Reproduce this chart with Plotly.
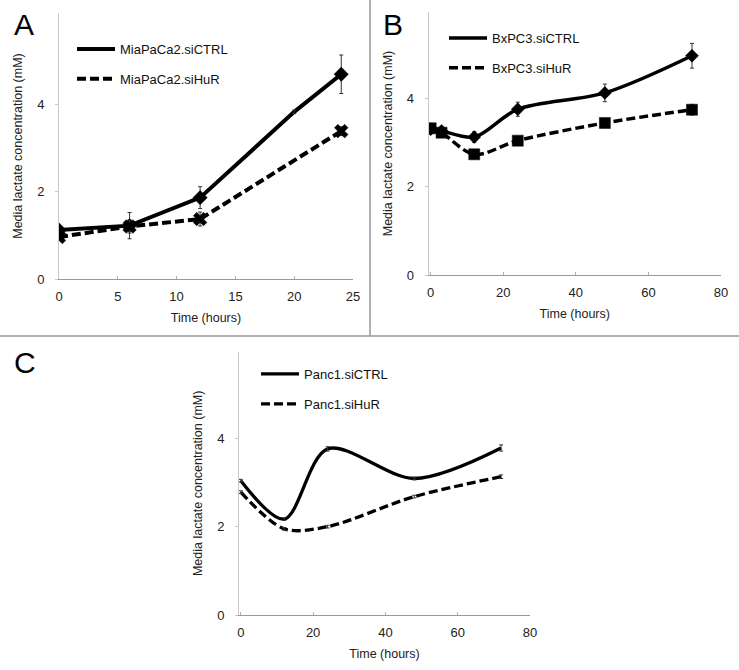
import plotly.graph_objects as go

W, H = 739, 670
FONT = "Liberation Sans, Arial, sans-serif"

# ---------------- data ----------------
# Panel A (MiaPaCa2)
a_time_ctrl = [0, 6, 12, 20, 24]
a_ctrl = [1.12, 1.22, 1.86, 3.82, 4.68]
a_ctrl_err = [0.05, 0.30, 0.25, 0.04, 0.44]
a_time_hur = [0, 6, 12, 24]
a_hur = [0.96, 1.20, 1.37, 3.38]
a_hur_err = [0.05, 0.15, 0.16, 0.10]

# Panel B (BxPC3)
b_time = [0, 3, 12, 24, 48, 72]
b_ctrl = [3.30, 3.26, 3.12, 3.75, 4.12, 4.96]
b_ctrl_err = [0.10, 0.08, 0.12, 0.16, 0.20, 0.28]
b_hur = [3.32, 3.22, 2.73, 3.04, 3.44, 3.74]
b_hur_err = [0.10, 0.08, 0.10, 0.08, 0.10, 0.12]

# Panel C (Panc1)
c_time = [0, 12, 24, 48, 72]
c_ctrl = [3.04, 2.17, 3.76, 3.09, 3.78]
c_ctrl_err = [0.03, 0.03, 0.05, 0.03, 0.07]
c_hur = [2.78, 1.95, 2.00, 2.68, 3.13]
c_hur_err = [0.03, 0.03, 0.03, 0.03, 0.04]

y_ticks = [0, 2, 4]
a_xticks = [0, 5, 10, 15, 20, 25]
bc_xticks = [0, 20, 40, 60, 80]

names = {
    "A": ("MiaPaCa2.siCTRL", "MiaPaCa2.siHuR"),
    "B": ("BxPC3.siCTRL", "BxPC3.siHuR"),
    "C": ("Panc1.siCTRL", "Panc1.siHuR"),
}


def px_x(p):
    return p / W


def px_y(p):
    return 1 - p / H


fig = go.Figure()
DASH = "9px,4px"


def add_series(x, y, err, name, solid, xa, ya, legend, shape, width,
               symbol=None, msize=0, hide_at=None):
    # line trace (shown in legend, no marker)
    fig.add_trace(go.Scatter(
        x=x, y=y, mode="lines", name=name, legend=legend, legendgroup=name,
        line=dict(color="black", width=width, dash=None if solid else DASH,
                  shape=shape, smoothing=0.9),
        xaxis=xa, yaxis=ya, showlegend=True, hoverinfo="skip"))
    sizes = [0 if (hide_at is not None and t == hide_at) else msize for t in x]
    fig.add_trace(go.Scatter(
        x=x, y=y, mode="markers", name=name, legend=legend, legendgroup=name,
        marker=dict(symbol=symbol or "circle", size=sizes, color="#000",
                    opacity=1, line=dict(width=0.5, color="#000")),
        error_y=dict(type="data", array=err, visible=True, color="#333",
                     thickness=1, width=2),
        xaxis=xa, yaxis=ya, showlegend=False))


# Panel A
add_series(a_time_ctrl, a_ctrl, a_ctrl_err, names["A"][0], True, "x", "y",
           "legend", "linear", 4, "diamond", 11, hide_at=20)
add_series(a_time_hur, a_hur, a_hur_err, names["A"][1], False, "x", "y",
           "legend", "linear", 4, "x", 12)
# Panel B
add_series(b_time, b_ctrl, b_ctrl_err, names["B"][0], True, "x2", "y2",
           "legend2", "spline", 3.5, "diamond", 10)
add_series(b_time, b_hur, b_hur_err, names["B"][1], False, "x2", "y2",
           "legend2", "spline", 3.5, "square", 11)
# Panel C
add_series(c_time, c_ctrl, c_ctrl_err, names["C"][0], True, "x3", "y3",
           "legend3", "spline", 3.3, None, 0)
add_series(c_time, c_hur, c_hur_err, names["C"][1], False, "x3", "y3",
           "legend3", "spline", 3.3, None, 0)

tickfont = dict(family=FONT, size=13, color="#222")
titlefont = dict(family=FONT, size=12.5, color="#222")


def xaxis(domain_px, rng, ticks, anchor):
    return dict(domain=[px_x(domain_px[0]), px_x(domain_px[1])], range=rng,
                tickvals=ticks, showline=True, linecolor="#9a9a9a",
                linewidth=1, ticks="inside", ticklen=3, tickcolor="#b0b0b0",
                showgrid=False, zeroline=False, tickfont=tickfont,
                ticklabelstandoff=5, anchor=anchor, automargin=True,
                title=dict(text="Time (hours)", font=titlefont, standoff=10))


def yaxis(domain_px, rng, anchor):
    return dict(domain=[px_y(domain_px[1]), px_y(domain_px[0])], range=rng,
                tickvals=y_ticks, showline=True, linecolor="#c8c8c8",
                linewidth=1, ticks="outside", ticklen=3, tickcolor="#c8c8c8",
                showgrid=False, zeroline=False, tickfont=tickfont,
                ticklabelstandoff=8, anchor=anchor, automargin=True,
                title=dict(text="Media lactate concentration (mM)",
                           font=titlefont, standoff=11))


legend_common = dict(font=dict(family=FONT, size=13, color="#111"),
                     bgcolor="rgba(0,0,0,0)", tracegroupgap=10,
                     xanchor="left", yanchor="top", itemwidth=38)

fig.update_layout(
    width=W, height=H, autosize=False,
    margin=dict(l=0, r=0, t=0, b=0, autoexpand=False),
    paper_bgcolor="white", plot_bgcolor="white",
    xaxis=xaxis((59, 353), [0, 25], a_xticks, "y"),
    yaxis=yaxis((13, 279), [0, 6.08], "x"),
    xaxis2=xaxis((428.5, 721), [-0.6, 80], bc_xticks, "y2"),
    yaxis2=yaxis((12, 275), [0, 5.95], "x2"),
    xaxis3=xaxis((239, 530), [-0.5, 80], bc_xticks, "y3"),
    yaxis3=yaxis((351.7, 615), [0, 5.96], "x3"),
    legend=dict(x=px_x(72), y=px_y(34), **legend_common),
    legend2=dict(x=px_x(444), y=px_y(23), **legend_common),
    legend3=dict(x=px_x(256), y=px_y(359), **legend_common),
    showlegend=True,
)

# panel dividers
fig.add_shape(type="line", xref="paper", yref="paper",
              x0=px_x(370), x1=px_x(370), y0=px_y(0), y1=px_y(336),
              line=dict(color="#999", width=1.5))
fig.add_shape(type="line", xref="paper", yref="paper",
              x0=0, x1=1, y0=px_y(336), y1=px_y(336),
              line=dict(color="#999", width=1.5))

# panel letters
for letter, (lx, ly) in {"A": (12, 24), "B": (381, 24), "C": (12, 362)}.items():
    fig.add_annotation(text=letter, xref="paper", yref="paper",
                       x=px_x(lx), y=px_y(ly), xanchor="left", yanchor="middle",
                       showarrow=False,
                       font=dict(family=FONT, size=30, color="black"))

fig.write_html(
    "out.html",
    config={"displayModeBar": False},
    post_script="document.body.style.margin='0';document.body.style.padding='0';",
)
